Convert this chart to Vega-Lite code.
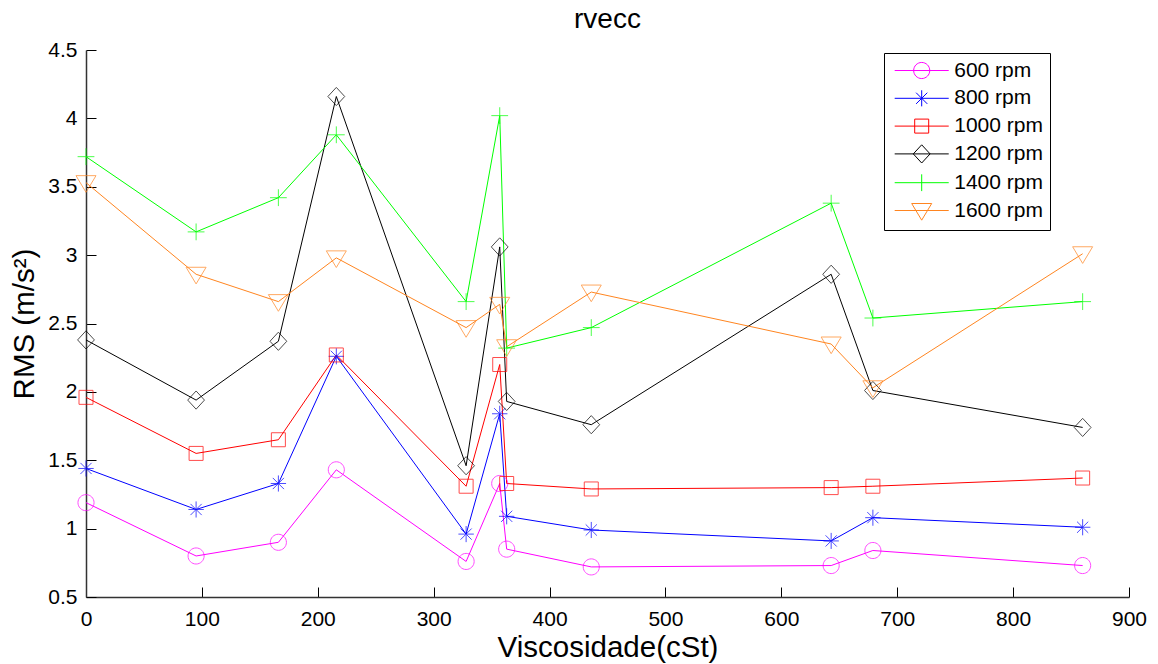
{
  "$schema": "https://vega.github.io/schema/vega-lite/v6.json",
  "autosize": {"type": "none"},
  "width": 1043,
  "height": 547,
  "padding": {"left": 86, "top": 50, "right": 29, "bottom": 67},
  "background": "white",
  "title": {"text": "rvecc", "font": "Liberation Sans", "fontSize": 28, "fontWeight": "normal", "color": "black", "anchor": "middle", "offset": 5},
  "config": {
    "view": {"stroke": null},
    "axis": {"labelFont": "Liberation Sans", "labelFontSize": 21, "labelColor": "black", "labelFlush": false, "titleFont": "Liberation Sans", "titleFontSize": 29.5, "titleFontWeight": "normal", "titleColor": "black", "grid": false, "domainColor": "#333333", "domainWidth": 1.5, "tickColor": "black", "tickWidth": 1, "tickSize": -10},
    "point": {"filled": false, "strokeWidth": 1, "size": 196},
    "legend": {"title": null, "orient": "none", "legendX": 798, "legendY": 3, "padding": 7,
      "strokeColor": "black", "fillColor": "white", "symbolSize": 196, "symbolStrokeWidth": 1,
      "symbolOffset": 20.2, "labelOffset": 22, "rowPadding": 5.8, "symbolFillColor": "transparent",
      "labelFont": "Liberation Sans", "labelFontSize": 21, "labelColor": "black"}
  },
  "data": {"values": [
    {"x": 0, "y": 1.19, "s": "600 rpm"}, {"x": 95, "y": 0.80, "s": "600 rpm"}, {"x": 166, "y": 0.90, "s": "600 rpm"}, {"x": 216, "y": 1.43, "s": "600 rpm"}, {"x": 328, "y": 0.76, "s": "600 rpm"}, {"x": 357, "y": 1.33, "s": "600 rpm"}, {"x": 363, "y": 0.85, "s": "600 rpm"}, {"x": 436, "y": 0.72, "s": "600 rpm"}, {"x": 643, "y": 0.73, "s": "600 rpm"}, {"x": 679, "y": 0.84, "s": "600 rpm"}, {"x": 860, "y": 0.73, "s": "600 rpm"},
    {"x": 0, "y": 1.44, "s": "800 rpm"}, {"x": 95, "y": 1.14, "s": "800 rpm"}, {"x": 166, "y": 1.33, "s": "800 rpm"}, {"x": 216, "y": 2.26, "s": "800 rpm"}, {"x": 328, "y": 0.96, "s": "800 rpm"}, {"x": 357, "y": 1.84, "s": "800 rpm"}, {"x": 363, "y": 1.09, "s": "800 rpm"}, {"x": 436, "y": 0.99, "s": "800 rpm"}, {"x": 643, "y": 0.91, "s": "800 rpm"}, {"x": 679, "y": 1.08, "s": "800 rpm"}, {"x": 860, "y": 1.01, "s": "800 rpm"},
    {"x": 0, "y": 1.96, "s": "1000 rpm"}, {"x": 95, "y": 1.55, "s": "1000 rpm"}, {"x": 166, "y": 1.65, "s": "1000 rpm"}, {"x": 216, "y": 2.27, "s": "1000 rpm"}, {"x": 328, "y": 1.31, "s": "1000 rpm"}, {"x": 357, "y": 2.20, "s": "1000 rpm"}, {"x": 363, "y": 1.33, "s": "1000 rpm"}, {"x": 436, "y": 1.29, "s": "1000 rpm"}, {"x": 643, "y": 1.30, "s": "1000 rpm"}, {"x": 679, "y": 1.31, "s": "1000 rpm"}, {"x": 860, "y": 1.37, "s": "1000 rpm"},
    {"x": 0, "y": 2.38, "s": "1200 rpm"}, {"x": 95, "y": 1.94, "s": "1200 rpm"}, {"x": 166, "y": 2.37, "s": "1200 rpm"}, {"x": 216, "y": 4.16, "s": "1200 rpm"}, {"x": 328, "y": 1.46, "s": "1200 rpm"}, {"x": 357, "y": 3.06, "s": "1200 rpm"}, {"x": 363, "y": 1.93, "s": "1200 rpm"}, {"x": 436, "y": 1.76, "s": "1200 rpm"}, {"x": 643, "y": 2.86, "s": "1200 rpm"}, {"x": 679, "y": 2.01, "s": "1200 rpm"}, {"x": 860, "y": 1.74, "s": "1200 rpm"},
    {"x": 0, "y": 3.72, "s": "1400 rpm"}, {"x": 95, "y": 3.17, "s": "1400 rpm"}, {"x": 166, "y": 3.42, "s": "1400 rpm"}, {"x": 216, "y": 3.88, "s": "1400 rpm"}, {"x": 328, "y": 2.66, "s": "1400 rpm"}, {"x": 357, "y": 4.02, "s": "1400 rpm"}, {"x": 363, "y": 2.32, "s": "1400 rpm"}, {"x": 436, "y": 2.47, "s": "1400 rpm"}, {"x": 643, "y": 3.38, "s": "1400 rpm"}, {"x": 679, "y": 2.54, "s": "1400 rpm"}, {"x": 860, "y": 2.66, "s": "1400 rpm"},
    {"x": 0, "y": 3.53, "s": "1600 rpm"}, {"x": 95, "y": 2.86, "s": "1600 rpm"}, {"x": 166, "y": 2.66, "s": "1600 rpm"}, {"x": 216, "y": 2.98, "s": "1600 rpm"}, {"x": 328, "y": 2.47, "s": "1600 rpm"}, {"x": 357, "y": 2.64, "s": "1600 rpm"}, {"x": 363, "y": 2.33, "s": "1600 rpm"}, {"x": 436, "y": 2.73, "s": "1600 rpm"}, {"x": 643, "y": 2.35, "s": "1600 rpm"}, {"x": 679, "y": 2.03, "s": "1600 rpm"}, {"x": 860, "y": 3.01, "s": "1600 rpm"}
  ]},
  "encoding": {
    "x": {"field": "x", "type": "quantitative", "scale": {"domain": [0, 900], "nice": false, "zero": false},
      "axis": {"title": "Viscosidade(cSt)", "values": [0, 100, 200, 300, 400, 500, 600, 700, 800, 900], "labelExpr": "'' + datum.value", "labelPadding": 21, "titlePadding": 4.5}},
    "y": {"field": "y", "type": "quantitative", "scale": {"domain": [0.5, 4.5], "nice": false, "zero": false},
      "axis": {"title": "RMS (m/s²)", "values": [0.5, 1, 1.5, 2, 2.5, 3, 3.5, 4, 4.5], "labelExpr": "'' + datum.value", "labelPadding": 19, "titlePadding": 8}},
    "color": {"field": "s", "type": "nominal",
      "legend": {"encode": {"symbols": {"update": {"opacity": {"value": 1}, "fill": {"value": "transparent"}}}}},
      "scale": {"domain": ["600 rpm", "800 rpm", "1000 rpm", "1200 rpm", "1400 rpm", "1600 rpm"], "range": ["#FF00FF", "#0000FF", "#FF0000", "#000000", "#00FF00", "#FF8520"]}}
  },
  "layer": [
    {"mark": {"type": "line", "strokeWidth": 1}},
    {"transform": [{"filter": "datum.s == '600 rpm'"}], "mark": {"type": "point", "shape": "M-1.15,0A1.15,1.15 0 1,0 1.15,0A1.15,1.15 0 1,0 -1.15,0"}},
    {"transform": [{"filter": "datum.s == '800 rpm'"}], "mark": {"type": "point", "shape": "M0,-1.15V1.15M-1.1,0H1.1M-0.8,-0.8L0.8,0.8M-0.8,0.8L0.8,-0.8"}},
    {"transform": [{"filter": "datum.s == '1000 rpm'"}], "mark": {"type": "point", "shape": "M-1,-1H1V1H-1Z"}},
    {"transform": [{"filter": "datum.s == '1200 rpm'"}], "mark": {"type": "point", "shape": "M0,-1.3L1.2,0L0,1.3L-1.2,0Z"}},
    {"transform": [{"filter": "datum.s == '1400 rpm'"}], "mark": {"type": "point", "shape": "M0,-1.2V1.2M-1.2,0H1.2"}},
    {"transform": [{"filter": "datum.s == '1600 rpm'"}], "mark": {"type": "point", "shape": "M-1.43,-1H1.43L0,1.38Z"}},
    {
      "mark": {"type": "point", "opacity": 0},
      "encoding": {
        "shape": {"field": "s", "type": "nominal",
          "scale": {"domain": ["600 rpm", "800 rpm", "1000 rpm", "1200 rpm", "1400 rpm", "1600 rpm"],
            "range": [
              "M-3.86,0H3.86M-1.15,0A1.15,1.15 0 1,0 1.15,0A1.15,1.15 0 1,0 -1.15,0",
              "M-3.86,0H3.86M0,-1.15V1.15M-0.8,-0.8L0.8,0.8M-0.8,0.8L0.8,-0.8",
              "M-3.86,0H3.86M-1,-1H1V1H-1Z",
              "M-3.86,0H3.86M0,-1.3L1.2,0L0,1.3L-1.2,0Z",
              "M-3.86,0H3.86M0,-1.2V1.2",
              "M-3.86,0H3.86M-1.43,-1H1.43L0,1.38Z"
            ]},
          "legend": {"encode": {"symbols": {"update": {"opacity": {"value": 1}, "fill": {"value": "transparent"}}}}}}
      }
    }
  ]
}
